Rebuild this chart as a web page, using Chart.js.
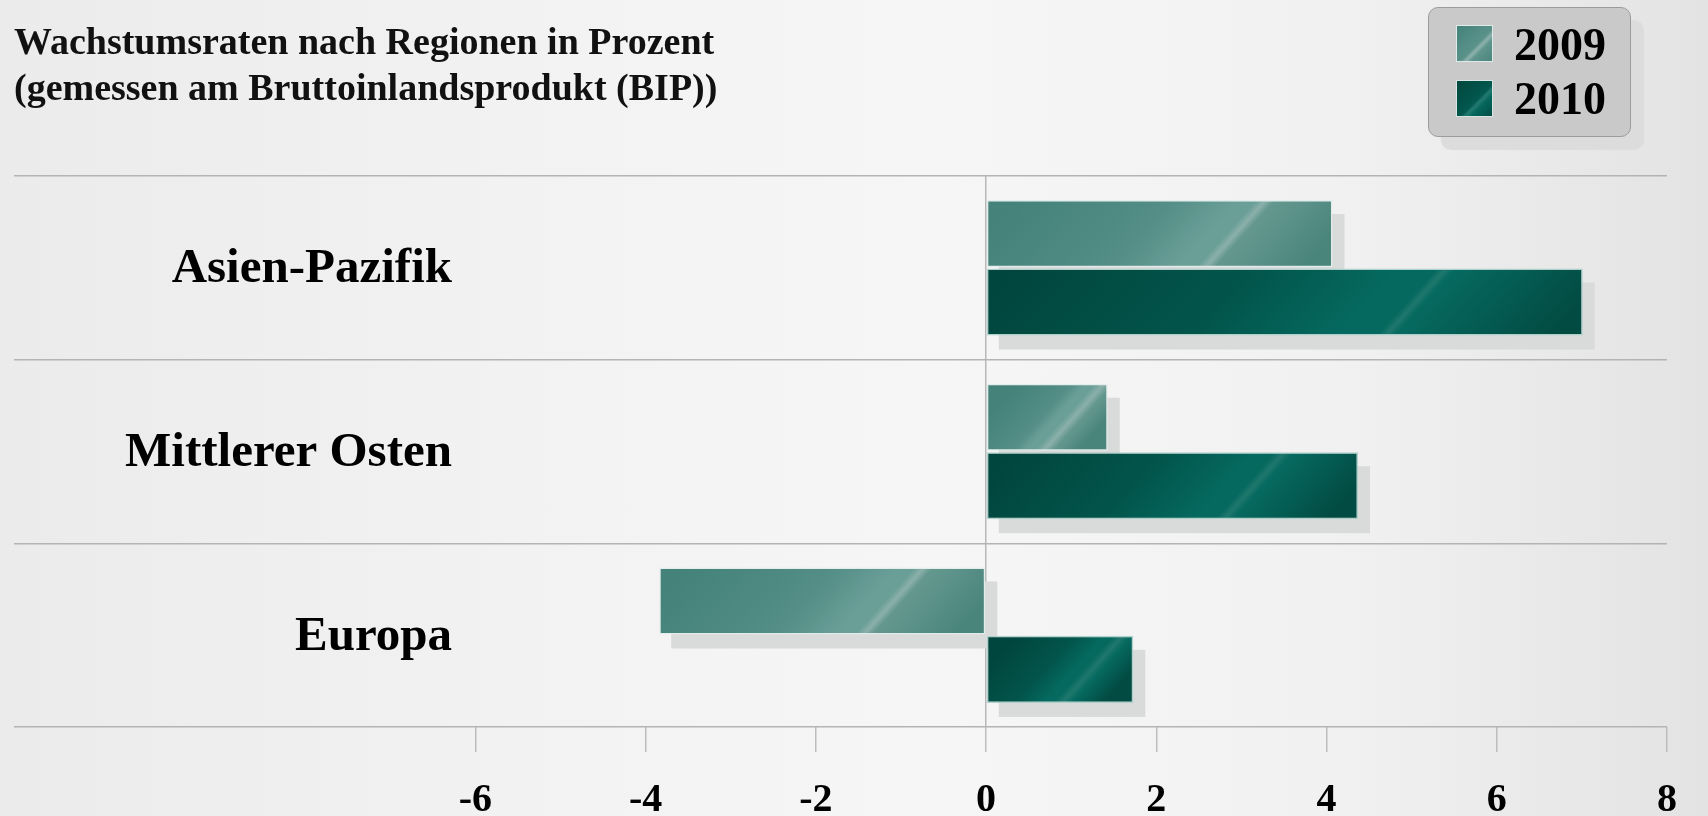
<!DOCTYPE html>
<html lang="de">
<head>
<meta charset="utf-8">
<script src="https://cdn.jsdelivr.net/npm/chart.js@4.4.1/dist/chart.umd.min.js"></script>
<style>
  html, body { margin: 0; padding: 0; }
  body {
    width: 1708px; height: 816px; overflow: hidden; position: relative;
    background: linear-gradient(to right, #ebebeb 0%, #f2f2f2 30%, #f6f6f6 55%, #f1f1f1 78%, #e3e3e3 100%);
    font-family: "Liberation Serif", serif;
  }
  #wrap { position: absolute; left: 0; top: 0; width: 1708px; height: 816px; }
  #title {
    position: absolute; left: 14px; top: 18px;
    font-weight: bold; font-size: 38px; line-height: 46px; color: #111;
    white-space: nowrap;
  }
  #legend {
    position: absolute; left: 1428px; top: 7px; width: 201px; height: 128px;
    border: 1.5px solid #9c9c9c; border-radius: 10px;
    background: #c9c9c9;
    box-shadow: 13px 13px 1px #dcdcdc;
  }
  .sw { position: absolute; left: 27px; width: 37px; height: 37px; box-sizing: border-box; border: 1px solid rgba(240,245,244,0.9); }
  .lt { position: absolute; left: 85px; font-weight: bold; font-size: 46px; line-height: 46px; color: #000; }
</style>
</head>
<body>
<div id="wrap"><canvas id="chart"></canvas></div>
<div id="title">Wachstumsraten nach Regionen in Prozent<br>(gemessen am Bruttoinlandsprodukt (BIP))</div>
<div id="legend"></div>
<script>
// data
const categories = ['Asien-Pazifik', 'Mittlerer Osten', 'Europa'];
const seriesLabels = ['2009', '2010'];
const values2009 = [4.07, 1.43, -3.84];
const values2010 = [7.01, 4.37, 1.73];
const tickValues = [-6, -4, -2, 0, 2, 4, 6, 8];

// colour ramps for the glossy bars
const shades = {
  light: { stops: [[0, '#44827a'], [0.45, '#548e86'], [0.64, '#6a9f98']], glow: '#8bb0aa', after: '#64988f', end: '#4a857c' },
  dark:  { stops: [[0, '#01463e'], [0.4, '#02554b'], [0.64, '#05695f']], glow: '#1f776d', after: '#066a60', end: '#024b42' }
};
const STREAK = 0.72;
const ANGLE = 42 * Math.PI / 180;

function barGradient(ctx, left, right, yc, shade) {
  const w = Math.max(right - left, 1);
  const c = Math.cos(ANGLE), s = Math.sin(ANGLE);
  const g = ctx.createLinearGradient(left, yc, left + w * c * c, yc + w * c * s);
  const hw = 9 / w;
  shade.stops.forEach(st => g.addColorStop(Math.min(st[0], STREAK - 2 * hw), st[1]));
  g.addColorStop(Math.max(STREAK - hw, 0), shade.stops[shade.stops.length - 1][1]);
  g.addColorStop(STREAK, shade.glow);
  g.addColorStop(Math.min(STREAK + hw, 1), shade.after);
  g.addColorStop(1, shade.end);
  return g;
}

const barLook = {
  id: 'barLook',
  beforeDatasetsDraw(chart) {
    const ctx = chart.ctx;
    ctx.save();
    ctx.fillStyle = '#d9dbda';
    chart.data.datasets.forEach((ds, di) => {
      chart.getDatasetMeta(di).data.forEach(bar => {
        const { x, y, base, height } = bar.getProps(['x', 'y', 'base', 'height'], true);
        const left = Math.min(x, base), right = Math.max(x, base);
        ctx.fillRect(left + 12, y - height / 2 + 14, right - left, height);
        bar.options = Object.assign({}, bar.options, { backgroundColor: barGradient(ctx, left, right, y, shades[ds.shade]) });
      });
    });
    ctx.restore();
  },
  afterDatasetsDraw(chart) {
    const ctx = chart.ctx;
    const yScale = chart.scales.y;
    ctx.save();
    ctx.font = 'bold 49px "Liberation Serif"';
    ctx.fillStyle = '#000';
    ctx.textAlign = 'right';
    ctx.textBaseline = 'middle';
    categories.forEach((c, i) => ctx.fillText(c, chart.chartArea.left + 438, yScale.getPixelForValue(i) + 2));
    ctx.restore();
  }
};

// legend
const legend = document.getElementById('legend');
const swatchCss = {
  light: 'linear-gradient(135deg, #44827a 0%, #5a928a 55%, #8db2ac 62%, #5f958d 70%, #4a857c 100%)',
  dark: 'linear-gradient(135deg, #01463e 0%, #03584e 55%, #237a70 62%, #05675d 70%, #024b42 100%)'
};
['light', 'dark'].forEach((sh, i) => {
  const sw = document.createElement('div');
  sw.className = 'sw';
  sw.style.top = (17 + i * 54.5) + 'px';
  sw.style.background = swatchCss[sh];
  legend.appendChild(sw);
  const t = document.createElement('div');
  t.className = 'lt';
  t.style.top = (14 + i * 54) + 'px';
  t.textContent = seriesLabels[i];
  legend.appendChild(t);
});

new Chart(document.getElementById('chart'), {
  type: 'bar',
  data: {
    labels: categories,
    datasets: [
      { label: seriesLabels[0], data: values2009, shade: 'light', backgroundColor: '#548e86', borderColor: 'rgba(225,236,234,0.9)' },
      { label: seriesLabels[1], data: values2010, shade: 'dark', backgroundColor: '#02554b', borderColor: 'rgba(170,205,200,0.9)' }
    ]
  },
  options: {
    indexAxis: 'y',
    responsive: true,
    maintainAspectRatio: false,
    animation: false,
    layout: { padding: { left: 14, right: 41, top: 176, bottom: -34 } },
    plugins: { legend: { display: false }, tooltip: { enabled: false }, colors: { enabled: false } },
    datasets: {
      bar: {
        categoryPercentage: 0.745,
        barPercentage: 0.98,
        borderWidth: 1.5,
        borderSkipped: false
      }
    },
    scales: {
      x: {
        min: -11.42,
        max: 8,
        afterBuildTicks: s => { s.ticks = tickValues.map(v => ({ value: v })); },
        border: { display: false },
        grid: {
          color: c => (c.tick && c.tick.value === 0) ? '#b8b8b8' : 'rgba(0,0,0,0)',
          tickColor: '#bdbdbd',
          tickLength: 25,
          lineWidth: 1.5
        },
        ticks: {
          autoSkip: false,
          maxRotation: 0,
          padding: 29,
          color: '#000',
          font: { family: '"Liberation Serif"', size: 40, weight: 'bold', lineHeight: 1 }
        }
      },
      y: {
        border: { display: false },
        grid: { offset: true, color: '#b4b4b4', lineWidth: 1.5, drawTicks: false },
        ticks: { display: false }
      }
    }
  },
  plugins: [barLook]
});
</script>
</body>
</html>
